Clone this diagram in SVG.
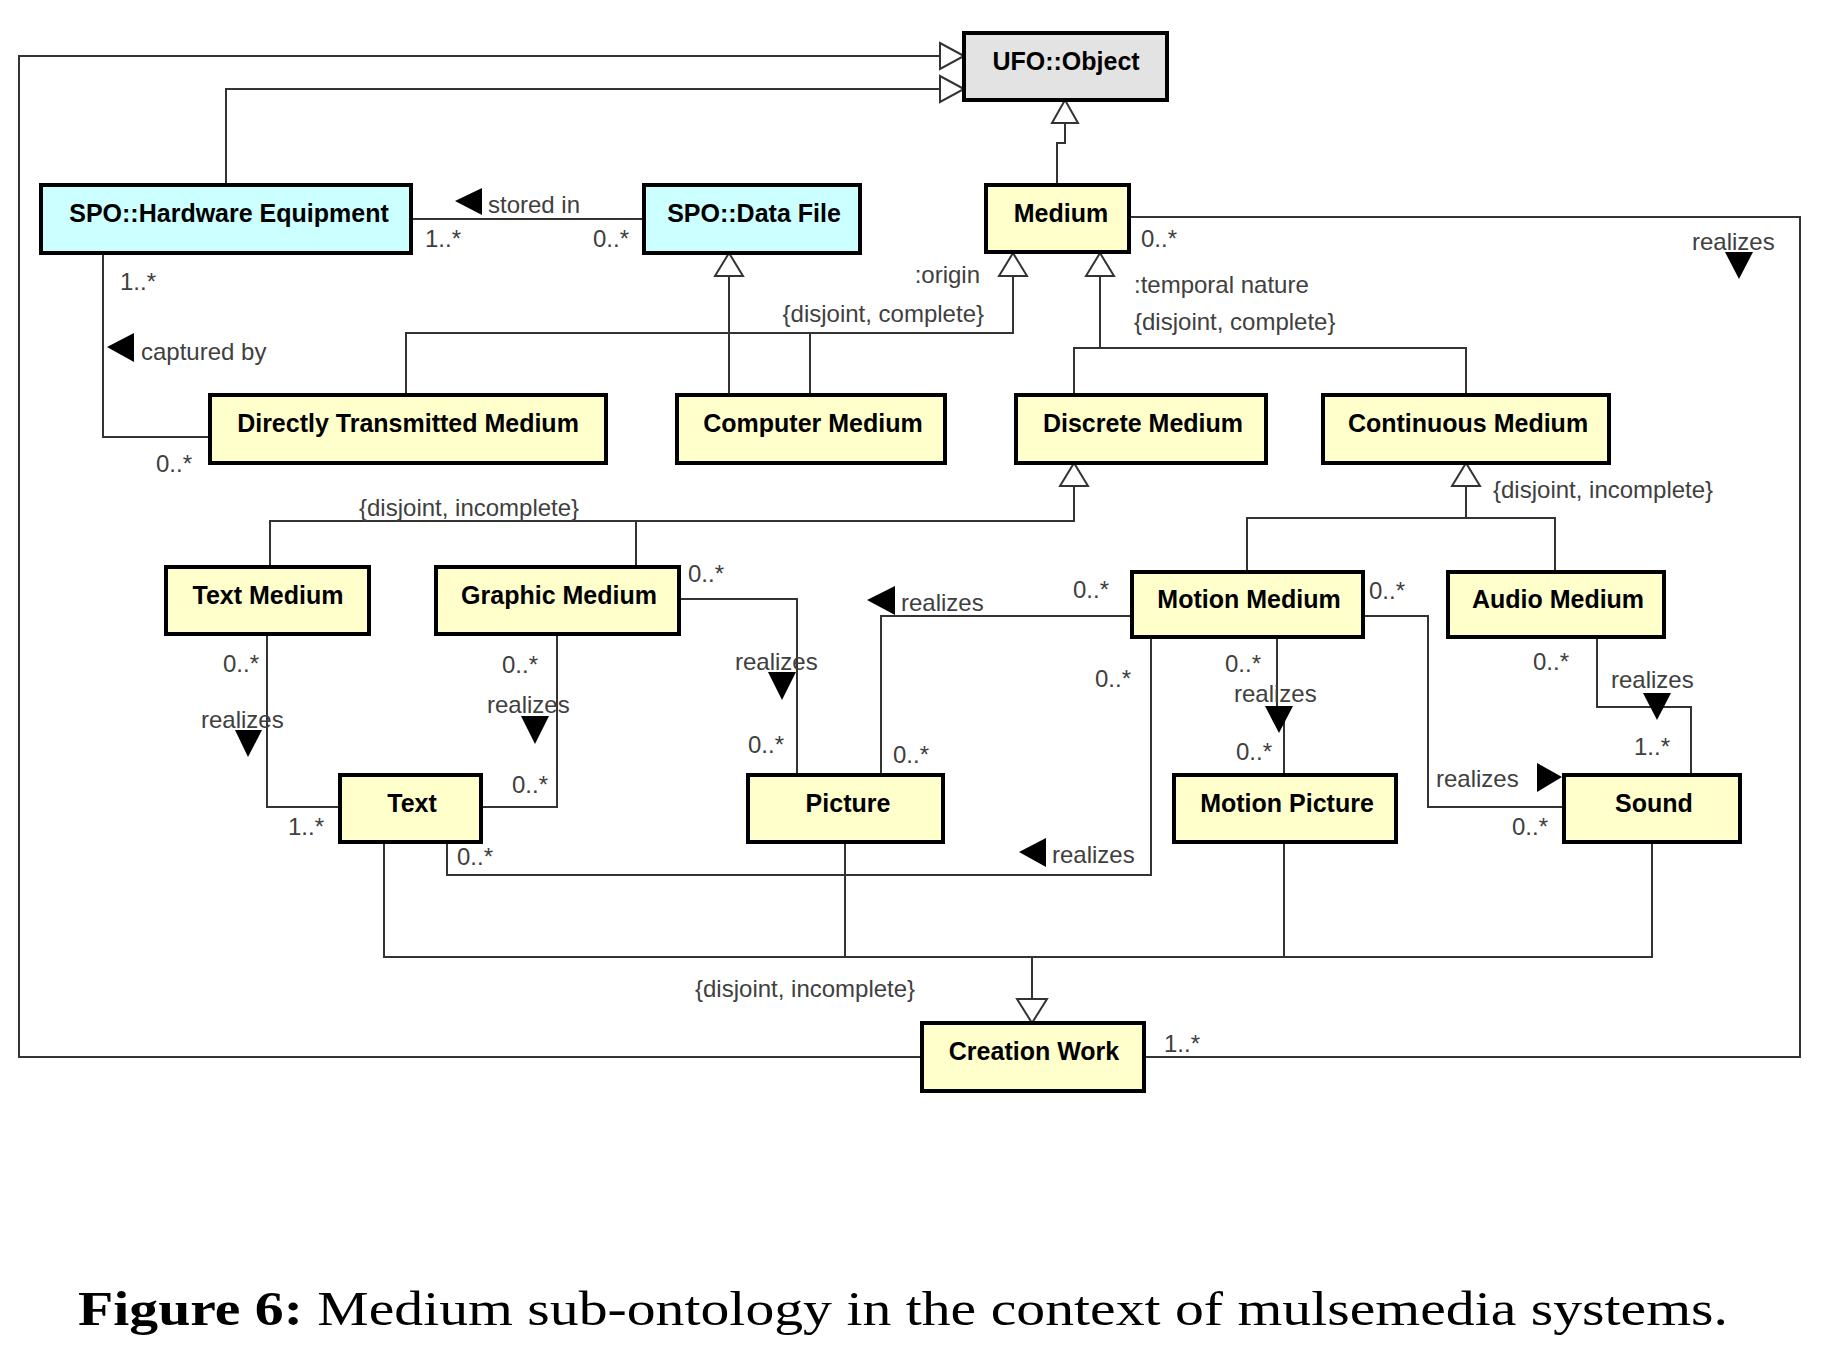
<svg xmlns="http://www.w3.org/2000/svg" width="1834" height="1366" viewBox="0 0 1834 1366">
<style>
.box{stroke:#000;stroke-width:4}
.y{fill:#ffffcc}
.c{fill:#ccffff}
.g{fill:#e3e3e3}
.n{font-family:"Liberation Sans",Arial,sans-serif;font-weight:bold;font-size:25px;fill:#000;text-anchor:middle}
.l{font-family:"Liberation Sans",Arial,sans-serif;font-size:24px;fill:#404040}
.e{text-anchor:end}
.w{fill:none;stroke:#333;stroke-width:2}
.h{fill:#fff;stroke:#333;stroke-width:2}
.d{fill:#000}
.cap{font-family:"Liberation Serif","DejaVu Serif",serif;font-size:48px;fill:#000}
</style>
<rect width="1834" height="1366" fill="#fff"/>

<g id="connectors">
  <!-- Creation Work -> UFO::Object (outer) -->
  <path class="w" d="M922 1057 H19 V56 H940"/>
  <polygon class="h" points="964,56 940,43 940,69"/>
  <!-- Hardware -> UFO::Object -->
  <path class="w" d="M226 185 V89 H940"/>
  <polygon class="h" points="964,89 940,76 940,102"/>
  <!-- Medium -> UFO::Object -->
  <path class="w" d="M1057 185 V143 H1065 V123"/>
  <polygon class="h" points="1065,100 1052,123 1078,123"/>
  <!-- Medium realizes Creation Work -->
  <path class="w" d="M1129 217 H1800 V1057 H1144"/>
  <text class="l" x="1141" y="247">0..*</text>
  <text class="l" x="1164" y="1052">1..*</text>
  <text class="l" x="1692" y="250">realizes</text>
  <polygon class="d" points="1725,252 1753,252 1739,279"/>
  <!-- stored in -->
  <path class="w" d="M411 219 H644"/>
  <polygon class="d" points="455,201 482,188 482,215"/>
  <text class="l" x="488" y="213">stored in</text>
  <text class="l" x="425" y="247">1..*</text>
  <text class="l" x="593" y="247">0..*</text>
  <!-- captured by -->
  <path class="w" d="M103 253 V437 H210"/>
  <text class="l" x="120" y="290">1..*</text>
  <polygon class="d" points="107,347 134,333 134,362"/>
  <text class="l" x="141" y="360">captured by</text>
  <text class="l" x="156" y="472">0..*</text>
  <!-- origin generalization -->
  <path class="w" d="M406 395 V333 H1013 V276"/>
  <path class="w" d="M810 395 V333"/>
  <polygon class="h" points="1013,253 999,276 1027,276"/>
  <text class="l e" x="980" y="283">:origin</text>
  <text class="l e" x="984" y="322">{disjoint, complete}</text>
  <!-- Computer Medium -> Data File -->
  <path class="w" d="M729 395 V276"/>
  <polygon class="h" points="729,253 715,276 743,276"/>
  <!-- temporal nature generalization -->
  <path class="w" d="M1074 395 V348 H1466 V395"/>
  <path class="w" d="M1100 348 V276"/>
  <polygon class="h" points="1100,253 1086,276 1114,276"/>
  <text class="l" x="1134" y="293">:temporal nature</text>
  <text class="l" x="1134" y="330">{disjoint, complete}</text>
  <!-- Discrete generalization -->
  <path class="w" d="M1074 486 V521 H270 V567"/>
  <path class="w" d="M636 521 V567"/>
  <polygon class="h" points="1074,463 1060,486 1088,486"/>
  <text class="l" x="359" y="516">{disjoint, incomplete}</text>
  <!-- Continuous generalization -->
  <path class="w" d="M1466 486 V518"/>
  <path class="w" d="M1247 572 V518 H1555 V572"/>
  <polygon class="h" points="1466,463 1452,486 1480,486"/>
  <text class="l" x="1493" y="498">{disjoint, incomplete}</text>
  <!-- Text Medium realizes Text -->
  <path class="w" d="M267 634 V807 H340"/>
  <text class="l" x="223" y="672">0..*</text>
  <text class="l" x="201" y="728">realizes</text>
  <polygon class="d" points="235,730 262,730 248,757"/>
  <text class="l" x="288" y="835">1..*</text>
  <!-- Graphic Medium realizes Text -->
  <path class="w" d="M557 634 V807 H481"/>
  <text class="l" x="502" y="673">0..*</text>
  <text class="l" x="487" y="713">realizes</text>
  <polygon class="d" points="521,716 549,716 535,744"/>
  <text class="l" x="512" y="793">0..*</text>
  <!-- Graphic Medium realizes Picture -->
  <path class="w" d="M679 599 H797 V775"/>
  <text class="l" x="688" y="582">0..*</text>
  <text class="l" x="735" y="670">realizes</text>
  <polygon class="d" points="768,672 796,672 782,700"/>
  <text class="l" x="748" y="753">0..*</text>
  <!-- Motion Medium realizes Picture -->
  <path class="w" d="M1132 616 H881 V775"/>
  <polygon class="d" points="867,600 895,586 895,615"/>
  <text class="l" x="901" y="611">realizes</text>
  <text class="l" x="1073" y="598">0..*</text>
  <text class="l" x="893" y="763">0..*</text>
  <!-- Motion Medium realizes Text -->
  <path class="w" d="M1151 637 V875 H447 V842"/>
  <text class="l" x="1095" y="687">0..*</text>
  <polygon class="d" points="1019,852 1046,838 1046,867"/>
  <text class="l" x="1052" y="863">realizes</text>
  <text class="l" x="457" y="865">0..*</text>
  <!-- Motion Medium realizes Motion Picture -->
  <path class="w" d="M1277 637 V722 H1284 V775"/>
  <text class="l" x="1225" y="672">0..*</text>
  <text class="l" x="1234" y="702">realizes</text>
  <polygon class="d" points="1265,706 1293,706 1279,733"/>
  <text class="l" x="1236" y="760">0..*</text>
  <!-- Motion Medium realizes Sound -->
  <path class="w" d="M1363 616 H1428 V807 H1564"/>
  <text class="l" x="1369" y="599">0..*</text>
  <text class="l" x="1436" y="787">realizes</text>
  <polygon class="d" points="1537,763 1537,792 1562,777"/>
  <text class="l" x="1512" y="835">0..*</text>
  <!-- Audio Medium realizes Sound -->
  <path class="w" d="M1597 637 V707 H1691 V775"/>
  <text class="l" x="1533" y="670">0..*</text>
  <text class="l" x="1611" y="688">realizes</text>
  <polygon class="d" points="1643,693 1671,693 1657,720"/>
  <text class="l" x="1634" y="755">1..*</text>
  <!-- Creation Work generalization -->
  <path class="w" d="M384 842 V957 H1652 V842"/>
  <path class="w" d="M845 842 V957"/>
  <path class="w" d="M1284 842 V957"/>
  <path class="w" d="M1032 957 V999"/>
  <polygon class="h" points="1032,1023 1017,999 1047,999"/>
  <text class="l" x="695" y="997">{disjoint, incomplete}</text>
</g>

<g id="ufo-object"><rect class="box g" x="964" y="33" width="203" height="67"/><text class="n" x="1066" y="70">UFO::Object</text></g>
<g id="hardware-equipment"><rect class="box c" x="41" y="185" width="370" height="68"/><text class="n" x="229" y="222">SPO::Hardware Equipment</text></g>
<g id="data-file"><rect class="box c" x="644" y="185" width="216" height="68"/><text class="n" x="754" y="222">SPO::Data File</text></g>
<g id="medium"><rect class="box y" x="986" y="185" width="143" height="67"/><text class="n" x="1061" y="222">Medium</text></g>
<g id="directly-transmitted-medium"><rect class="box y" x="210" y="395" width="396" height="68"/><text class="n" x="408" y="432">Directly Transmitted Medium</text></g>
<g id="computer-medium"><rect class="box y" x="677" y="395" width="268" height="68"/><text class="n" x="813" y="432">Computer Medium</text></g>
<g id="discrete-medium"><rect class="box y" x="1016" y="395" width="250" height="68"/><text class="n" x="1143" y="432">Discrete Medium</text></g>
<g id="continuous-medium"><rect class="box y" x="1323" y="395" width="286" height="68"/><text class="n" x="1468" y="432">Continuous Medium</text></g>
<g id="text-medium"><rect class="box y" x="166" y="567" width="203" height="67"/><text class="n" x="268" y="604">Text Medium</text></g>
<g id="graphic-medium"><rect class="box y" x="436" y="567" width="243" height="67"/><text class="n" x="559" y="604">Graphic Medium</text></g>
<g id="motion-medium"><rect class="box y" x="1132" y="572" width="231" height="65"/><text class="n" x="1249" y="608">Motion Medium</text></g>
<g id="audio-medium"><rect class="box y" x="1448" y="572" width="216" height="65"/><text class="n" x="1558" y="608">Audio Medium</text></g>
<g id="text"><rect class="box y" x="340" y="775" width="141" height="67"/><text class="n" x="412" y="812">Text</text></g>
<g id="picture"><rect class="box y" x="748" y="775" width="195" height="67"/><text class="n" x="848" y="812">Picture</text></g>
<g id="motion-picture"><rect class="box y" x="1174" y="775" width="222" height="67"/><text class="n" x="1287" y="812">Motion Picture</text></g>
<g id="sound"><rect class="box y" x="1564" y="775" width="176" height="67"/><text class="n" x="1654" y="812">Sound</text></g>
<g id="creation-work"><rect class="box y" x="922" y="1023" width="222" height="68"/><text class="n" x="1034" y="1060">Creation Work</text></g>

<text class="cap" x="78" y="1325" textLength="1650" lengthAdjust="spacingAndGlyphs"><tspan font-weight="bold">Figure 6:</tspan> Medium sub-ontology in the context of mulsemedia systems.</text>
</svg>
